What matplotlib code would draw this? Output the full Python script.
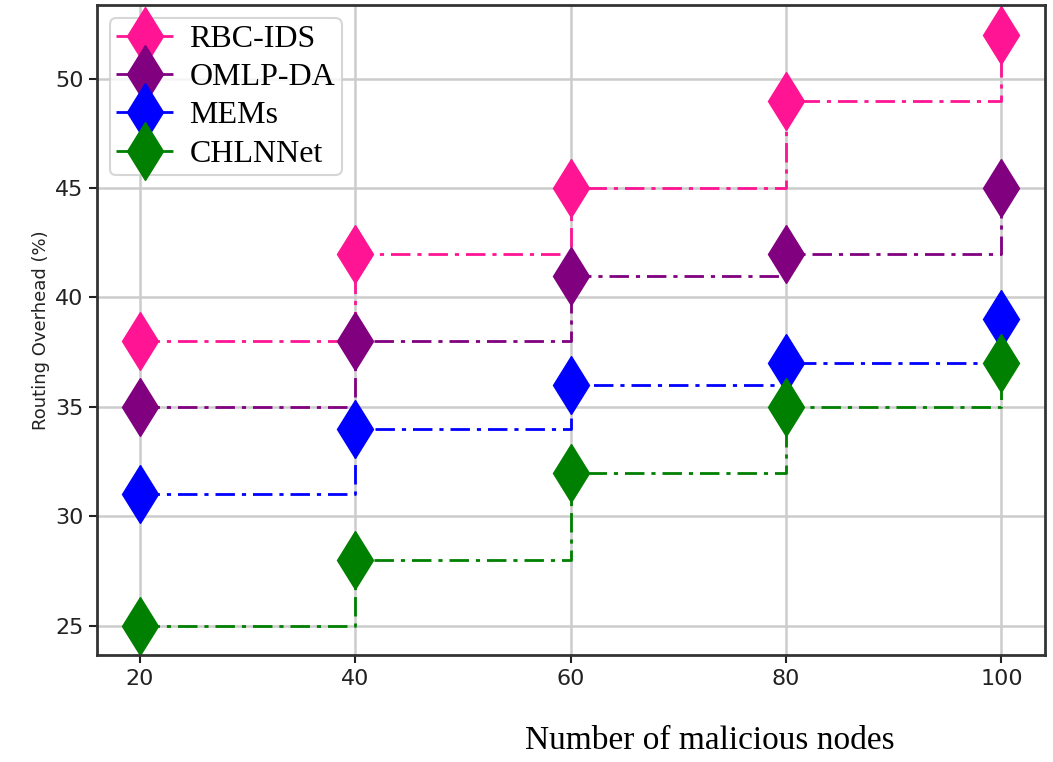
import matplotlib
matplotlib.use("Agg")
import matplotlib.pyplot as plt

# number of malicious nodes vs routing overhead
nodes = [20, 40, 60, 80, 100]
rbc_ids = [38, 42, 45, 49, 52]
omlp_da = [35, 38, 41, 42, 45]
mems = [31, 34, 36, 37, 39]
chlnnet = [25, 28, 32, 35, 37]

series = [("RBC-IDS", rbc_ids, "#ff1493"),
          ("OMLP-DA", omlp_da, "#800080"),
          ("MEMs", mems, "#0000ff"),
          ("CHLNNet", chlnnet, "#008000")]

fig = plt.figure(figsize=(10.53, 7.62), dpi=100)
ax = fig.add_axes([0.092, 0.140, 0.900, 0.853])

for name, vals, col in series:
    ax.step(nodes, vals, where="post", color=col,
            linestyle=(0, (7, 2.5, 1.5, 2.5)),
            linewidth=2.0, marker="d", markersize=30, label=name)

ax.set_xticks(nodes)
ax.set_yticks([25, 30, 35, 40, 45, 50])
ax.tick_params(labelsize=16, width=1.5, length=6, colors="#222222")
ax.grid(True, color="#cccccc", linewidth=1.8)
ax.set_axisbelow(True)
for sp in ax.spines.values():
    sp.set_linewidth(2)
    sp.set_color("#333333")

ax.set_ylabel("Routing Overhead (%)", fontsize=13, color="#222222")
fig.text(0.674, 0.008, "Number of malicious nodes", fontsize=24,
         family="Liberation Serif", ha="center", va="bottom")

leg = ax.legend(loc="upper left", prop={"family": "Liberation Serif", "size": 23},
                handlelength=1.8, labelspacing=0.28, borderpad=0.2,
                handletextpad=0.5, markerscale=1.0, borderaxespad=0.4)
leg.get_frame().set_edgecolor("#cccccc")
leg.get_frame().set_linewidth(1.5)

fig.savefig("out.png", dpi=100)
